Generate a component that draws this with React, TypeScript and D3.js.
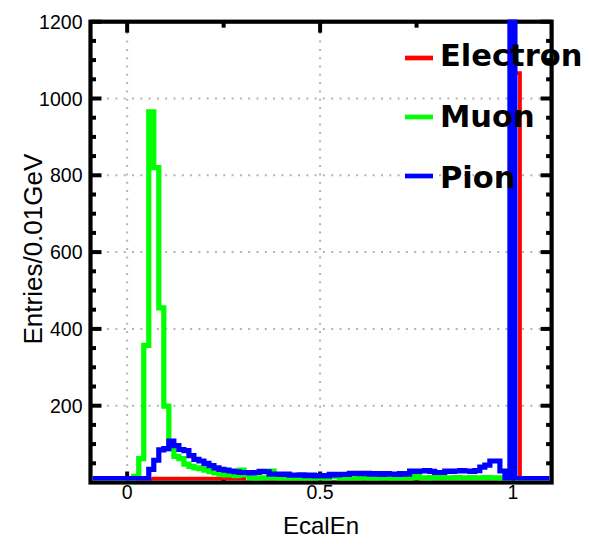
import React from 'react';
import * as d3 from 'd3';

// Histogram binning: bins of fixed width starting at BIN_START
const BIN_START = -0.1;
const BIN_WIDTH = 0.013;

// Entries per bin for each particle type
const electron: number[] = [
  0, 0, 0, 0, 0, 0, 0, 0, 0, 0, 0, 0,
  8,
  10, 10, 10, 10, 10, 10, 10, 10, 10, 10, 10, 10, 10, 10, 10, 10, 10, 10,
  0, 0, 0, 0, 0, 0, 0, 0, 0, 0, 0, 0, 0, 0, 0, 0, 0, 0, 0, 0, 0, 0, 0, 0, 0, 0,
  0, 0, 0, 0, 0, 0, 0, 0, 0, 0, 0, 0, 0, 0, 0, 0, 0, 0, 0, 0, 0, 0, 0, 0, 0, 0, 0,
  30, 1066,
  0, 0, 0, 0, 0, 0, 0,
];

const muon: number[] = [
  0, 0, 0, 0, 0, 0, 0, 0,
  6, 16, 62, 357, 965, 820, 455, 199, 88, 68, 62, 48, 42, 38, 36, 32, 28, 25, 22, 20,
  22, 18, 32, 20, 12, 10, 12, 12, 30, 12, 8, 9, 10, 8, 7, 6, 8, 8, 7, 8, 20, 15,
  9, 8, 10, 9, 13, 12, 9, 10, 13, 12, 9, 10, 11, 10, 12, 16, 12, 11, 13, 12,
  13, 12, 12, 13, 12, 12, 13, 12, 12, 13, 12, 12, 2, 2, 6,
  0, 0, 0, 0, 0, 0, 0, 0,
];

const pion: number[] = [
  10, 10, 10, 10, 10, 10, 10, 10, 10, 10, 10, 10,
  34, 58, 85, 88, 108, 96, 86, 83, 70, 60, 56, 50, 44, 38, 34, 32, 30, 28, 26, 26,
  25, 26, 29, 28, 22, 22, 21, 22, 19, 19, 20, 18, 19, 17, 18, 17, 21, 20, 21, 21,
  24, 24, 23, 24, 22, 23, 21, 23, 22, 21, 23, 22, 30, 29, 30, 31, 29, 26, 26, 30,
  29, 30, 31, 30, 29, 31, 40, 45, 56, 56, 30, 10, 1700,
  10, 10, 10, 10, 10, 10, 10, 10,
];

const seriesNames = ['Electron', 'Muon', 'Pion'];
const seriesColors = ['#ff0000', '#00ff00', '#0000ff'];
const seriesWidths = [3.8, 5.2, 5.2];

const xTickValues = [0, 0.5, 1];
const xTickLabels = ['0', '0.5', '1'];
const xMinorTickValues = [0.25, 0.75];
const yTickValues = [200, 400, 600, 800, 1000, 1200];
const yTickLabels = ['200', '400', '600', '800', '1000', '1200'];
const yGridValues = [200, 400, 600, 800, 1000];

const W = 589;
const H = 548;
const LEFT = 90.5;
const RIGHT = 551.6;
const TOP = 21.7;
const BOTTOM = 482.5;
const AXIS_W = 4.2;

export default function App() {
  const x = d3.scaleLinear().domain([-0.095, 1.1]).range([LEFT, RIGHT]);
  const y = d3.scaleLinear().domain([0, 1200]).range([BOTTOM, TOP]);

  const yMinor = d3.range(50, 1200, 50).filter((v) => v % 200 !== 0);

  const stairs = (values: number[]) => {
    const pts: [number, number][] = values.map((v, k) => [BIN_START + k * BIN_WIDTH, v]);
    pts.push([BIN_START + values.length * BIN_WIDTH, values[values.length - 1]]);
    const line = d3
      .line<[number, number]>()
      .x((d) => x(d[0]))
      .y((d) => y(d[1]))
      .curve(d3.curveStepAfter);
    return line(pts) || '';
  };

  const series = [electron, muon, pion];
  const tickFont = "'Liberation Sans', Arial, Helvetica, sans-serif";

  return (
    <svg
      width={W}
      height={H}
      viewBox={`0 0 ${W} ${H}`}
      style={{ position: 'absolute', left: 0, top: 0, background: '#fff' }}
    >
      <defs>
        <clipPath id="plot-clip">
          <rect
            x={LEFT + AXIS_W / 2}
            y={19.5}
            width={RIGHT - LEFT - AXIS_W}
            height={BOTTOM - AXIS_W / 2 - 19.5}
          />
        </clipPath>
      </defs>

      {/* dotted grid */}
      <g stroke="#b4b4b4" strokeWidth={2} strokeDasharray="2 6.3">
        {xTickValues.map((v) => (
          <line key={'gx' + v} x1={x(v)} x2={x(v)} y1={BOTTOM} y2={TOP} />
        ))}
        {yGridValues.map((v) => (
          <line key={'gy' + v} x1={LEFT} x2={RIGHT} y1={y(v)} y2={y(v)} />
        ))}
      </g>

      {/* axes box */}
      <rect
        x={LEFT}
        y={TOP}
        width={RIGHT - LEFT}
        height={BOTTOM - TOP}
        fill="none"
        stroke="#000"
        strokeWidth={AXIS_W}
      />

      {/* ticks */}
      <g stroke="#000" strokeWidth={4}>
        {yTickValues.map((v) => (
          <g key={'yt' + v}>
            <line x1={LEFT} x2={LEFT + 11} y1={y(v)} y2={y(v)} />
            <line x1={RIGHT} x2={RIGHT - 11} y1={y(v)} y2={y(v)} />
          </g>
        ))}
        {yMinor.map((v) => (
          <g key={'ym' + v}>
            <line x1={LEFT} x2={LEFT + 5.5} y1={y(v)} y2={y(v)} />
            <line x1={RIGHT} x2={RIGHT - 5.5} y1={y(v)} y2={y(v)} />
          </g>
        ))}
        {xTickValues.map((v) => (
          <g key={'xt' + v}>
            <line x1={x(v)} x2={x(v)} y1={BOTTOM} y2={BOTTOM - 11} />
            <line x1={x(v)} x2={x(v)} y1={TOP} y2={TOP + 11} />
          </g>
        ))}
        {xMinorTickValues.map((v) => (
          <g key={'xm' + v}>
            <line x1={x(v)} x2={x(v)} y1={BOTTOM} y2={BOTTOM - 6} />
            <line x1={x(v)} x2={x(v)} y1={TOP} y2={TOP + 6} />
          </g>
        ))}
      </g>

      {/* histograms */}
      <g clipPath="url(#plot-clip)" fill="none" strokeLinejoin="miter">
        {series.map((vals, i) => (
          <path
            key={seriesNames[i]}
            d={stairs(vals)}
            stroke={seriesColors[i]}
            strokeWidth={seriesWidths[i]}
          />
        ))}
      </g>

      {/* tick labels */}
      <g fontFamily={tickFont} fontSize={19.5} fill="#000">
        {yTickValues.map((v, i) => (
          <text key={'yl' + v} x={82.5} y={y(v) + 7} textAnchor="end">
            {yTickLabels[i]}
          </text>
        ))}
        {xTickValues.map((v, i) => (
          <text key={'xl' + v} x={x(v)} y={498.5} textAnchor="middle">
            {xTickLabels[i]}
          </text>
        ))}
      </g>

      {/* axis titles */}
      <text
        x={(LEFT + RIGHT) / 2}
        y={533.5}
        textAnchor="middle"
        fontFamily={tickFont}
        fontSize={24}
        fill="#000"
      >
        EcalEn
      </text>
      <text
        transform={`translate(41.5, ${(TOP + BOTTOM) / 2 - 3}) rotate(-90)`}
        textAnchor="middle"
        fontFamily={tickFont}
        fontSize={26}
        fill="#000"
      >
        Entries/0.01GeV
      </text>

      {/* legend */}
      <g>
        {seriesNames.map((name, i) => (
          <g key={'lg' + name}>
            <line
              x1={405}
              x2={433}
              y1={58 + i * 59}
              y2={58 + i * 59}
              stroke={seriesColors[i]}
              strokeWidth={4.7}
            />
            <text
              x={440}
              y={66 + i * 61}
              fontFamily="'DejaVu Sans', sans-serif"
              fontWeight="bold"
              fontSize={30.5}
              fill="#000"
            >
              {name}
            </text>
          </g>
        ))}
      </g>
    </svg>
  );
}
